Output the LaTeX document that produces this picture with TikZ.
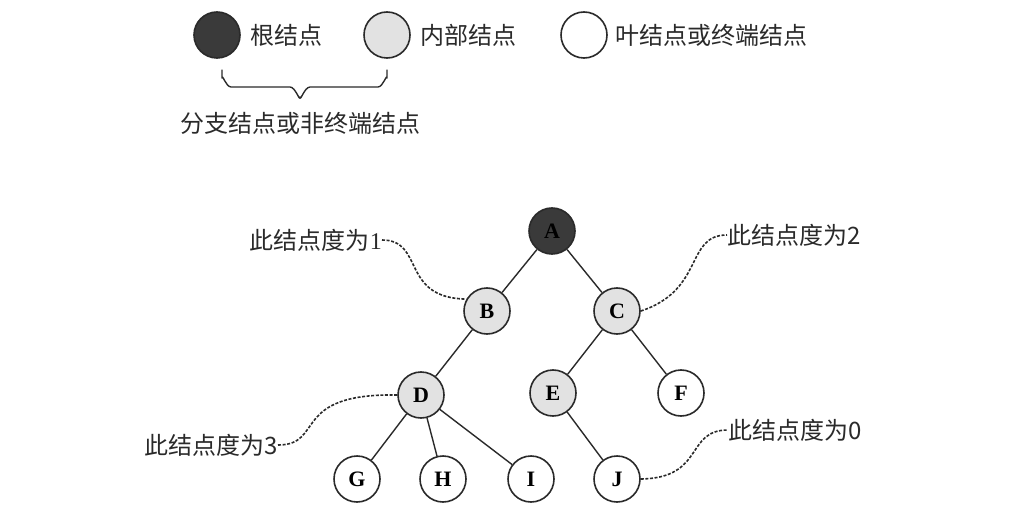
\documentclass[tikz,border=0pt]{standalone}
\usepackage{fontspec}
\setmainfont{Liberation Serif}
\newfontfamily\cjk{Noto Sans CJK SC}
\usetikzlibrary{calc}
\definecolor{rootfill}{HTML}{3A3A3A}
\definecolor{innerfill}{HTML}{E2E2E2}
\definecolor{linecol}{HTML}{2A2A2A}
\tikzset{
  nd/.style={circle,draw=linecol,line width=1.6pt,minimum size=46pt,inner sep=0pt,font=\fontsize{22}{22}\selectfont\bfseries},
  rootnd/.style={nd,fill=rootfill},
  innernd/.style={nd,fill=innerfill},
  leafnd/.style={nd,fill=white},
  edge/.style={draw=linecol,line width=1.4pt},
  lbl/.style={inner sep=0pt,text=linecol,font=\fontsize{24}{24}\selectfont},
  dline/.style={draw=linecol,line width=1.6pt,dash pattern=on 3pt off 1.6pt}
}
\begin{document}
\begin{tikzpicture}[x=1pt,y=-1pt]
\useasboundingbox (0,0) rectangle (1030,513);
% legend
\node[rootnd] (lr) at (217,35) {};
\node[lbl,anchor=west] (lrt) at (250,35) {\cjk 根结点};
\node[innernd] (li) at (387,35) {};
\node[lbl,anchor=west] (lit) at (420,35) {\cjk 内部结点};
\node[leafnd] (ll) at (584,35) {};
\node[lbl,anchor=west] (llt) at (615,35) {\cjk 叶结点或终端结点};
\coordinate (bl) at (222,70);
\coordinate (br) at (387,70);
\coordinate (btip) at (300,97);
\draw[edge,line cap=round,line join=round] (bl) -- ($(bl)+(0,8)$) to[out=90,in=180] ($(bl)+(9,17)$) -- ($(btip)+(-10,-10)$) to[out=0,in=270] (btip)
  to[out=270,in=180] ($(btip)+(10,-10)$) -- ($(br)+(-9,17)$) to[out=0,in=90] ($(br)+(0,8)$) -- (br);
\node[lbl] (bt) at (300,123) {\cjk 分支结点或非终端结点};
% tree
\node[rootnd] (A) at (552,231) {A};
\node[innernd] (B) at (487,311) {B};
\node[innernd] (C) at (617,311) {C};
\node[innernd] (D) at (421,395) {D};
\node[innernd] (E) at (553,393) {E};
\node[leafnd] (F) at (681,393) {F};
\node[leafnd] (G) at (357,479) {G};
\node[leafnd] (H) at (443,479) {H};
\node[leafnd] (I) at (531,479) {I};
\node[leafnd] (J) at (617,479) {J};
\draw[edge] (A) -- (B);
\draw[edge] (A) -- (C);
\draw[edge] (B) -- (D);
\draw[edge] (C) -- (E);
\draw[edge] (C) -- (F);
\draw[edge] (D) -- (G);
\draw[edge] (D) -- (H);
\draw[edge] (D) -- (I);
\draw[edge] (E) -- (J);
% annotations
\node[lbl,anchor=east] (n1) at (382,240) {\cjk 此结点度为\fontspec{Liberation Serif}1};
\node[lbl,anchor=west] (n2) at (727,235) {\cjk 此结点度为2};
\node[lbl,anchor=east] (n3) at (278,445) {\cjk 此结点度为3};
\node[lbl,anchor=west] (n0) at (728,430) {\cjk 此结点度为0};
\draw[dline] (n1.east) .. controls (425,240) and (400,298) .. (B.150);
\draw[dline] (C.east) .. controls (705,290) and (685,235) .. (n2.west);
\draw[dline] (n3.east) .. controls (325,445) and (290,393) .. (D.west);
\draw[dline] (J.east) .. controls (705,478) and (685,430) .. (n0.west);
\end{tikzpicture}
\end{document}
